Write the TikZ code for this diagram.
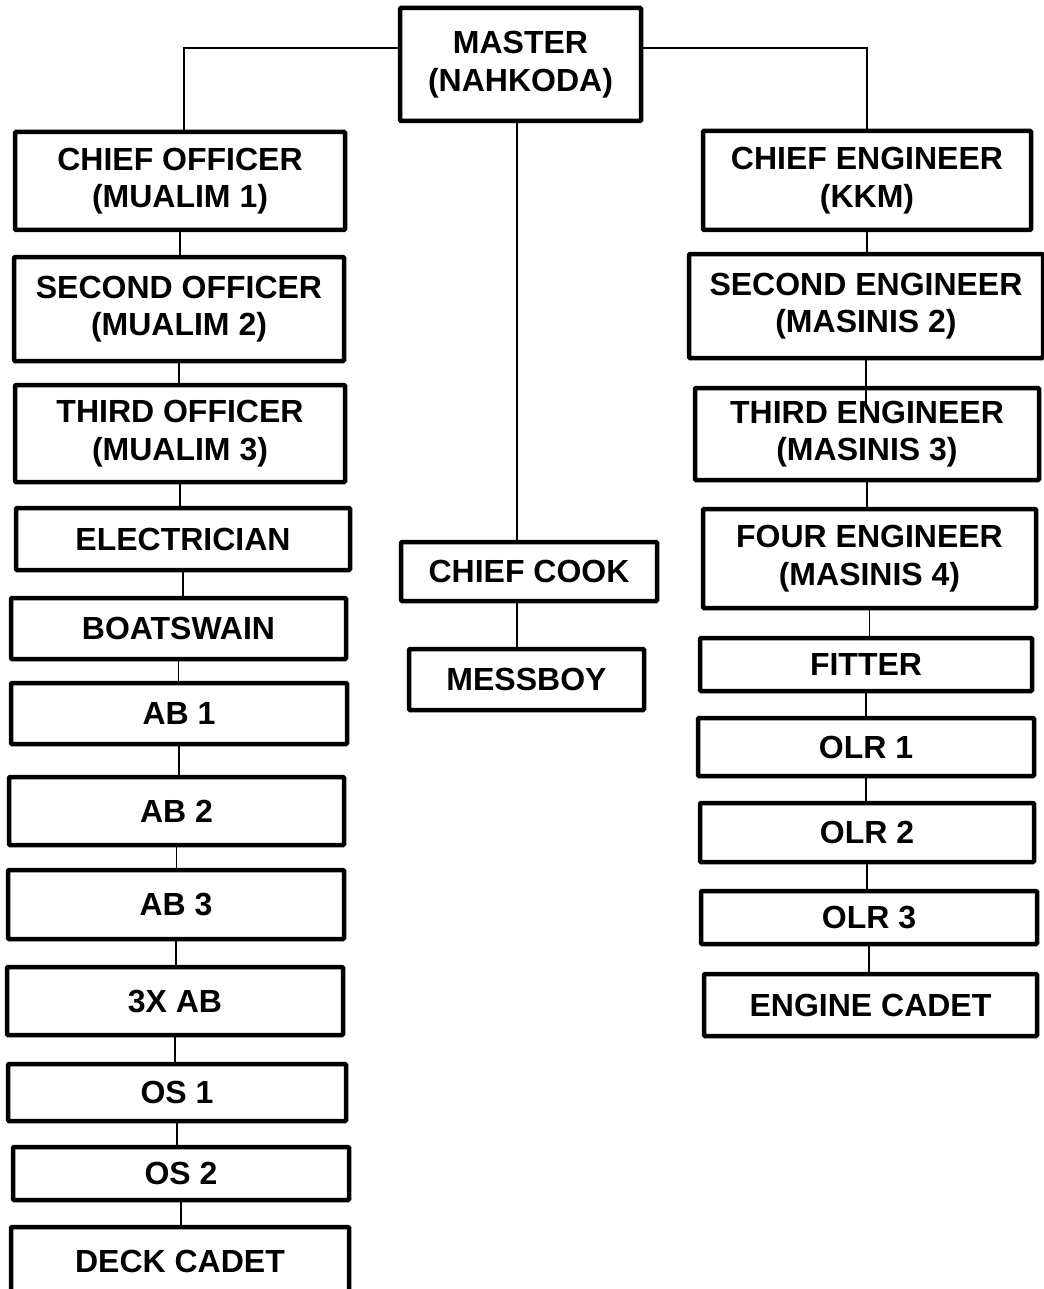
\documentclass[tikz,border=0pt]{standalone}
\usepackage{fontspec}
\setmainfont{Liberation Sans}
\usetikzlibrary{positioning,calc}

\begin{document}
\begin{tikzpicture}[
    x=1pt, y=-1pt,
    crew/.style={rectangle, draw=black, line width=4.5pt, rounded corners=1pt, fill=white,
                 align=center, inner sep=2pt,
                 font=\fontsize{32}{37.5}\selectfont\bfseries},
    link/.style={draw=black, line width=1.5pt}
]
\useasboundingbox (0,0) rectangle (1043,1289);

% top
\node[crew, minimum width=241pt, minimum height=113pt] (ms) at (520.5,64.5) {MASTER\\(NAHKODA)};

% deck department
\node[crew, minimum width=330pt, minimum height=98pt]  (co)  at (180,181)    {CHIEF OFFICER\\(MUALIM 1)};
\node[crew, minimum width=330pt, minimum height=104pt] (so)  at (179,309)    {SECOND OFFICER\\(MUALIM 2)};
\node[crew, minimum width=330pt, minimum height=97pt]  (to)  at (180,433.5)  {THIRD OFFICER\\(MUALIM 3)};
\node[crew, minimum width=334pt, minimum height=62pt]  (el)  at (183,539)    {ELECTRICIAN};
\node[crew, minimum width=335pt, minimum height=61pt]  (bo)  at (178.5,628.5) {BOATSWAIN};
\node[crew, minimum width=336pt, minimum height=61pt]  (ab1) at (179,713.5)  {AB 1};
\node[crew, minimum width=335pt, minimum height=68pt]  (ab2) at (176.5,811)  {AB 2};
\node[crew, minimum width=336pt, minimum height=69pt]  (ab3) at (176,904.5)  {AB 3};
\node[crew, minimum width=336pt, minimum height=68pt]  (abx) at (175,1001)   {3X AB};
\node[crew, minimum width=338pt, minimum height=57pt]  (os1) at (177,1092.5) {OS 1};
\node[crew, minimum width=336pt, minimum height=53pt]  (os2) at (181,1173.5) {OS 2};
\node[crew, minimum width=338pt, minimum height=68pt]  (dc)  at (180,1261)   {DECK CADET};

% galley
\node[crew, minimum width=256pt, minimum height=59pt] (cc) at (529,571.5)   {CHIEF COOK};
\node[crew, minimum width=235pt, minimum height=61pt] (mb) at (526.5,679.5) {MESSBOY};

% engine department
\node[crew, minimum width=328pt, minimum height=99pt]  (ce) at (867,180.5)   {CHIEF ENGINEER\\(KKM)};
\node[crew, minimum width=354pt, minimum height=104pt] (se) at (866,306)     {SECOND ENGINEER\\(MASINIS 2)};
\node[crew, minimum width=344pt, minimum height=92pt]  (te) at (867,434)     {THIRD ENGINEER\\(MASINIS 3)};
\node[crew, minimum width=333pt, minimum height=99pt]  (fe) at (869.5,558.5) {FOUR ENGINEER\\(MASINIS 4)};
\node[crew, minimum width=332pt, minimum height=53pt]  (fi) at (866,664.5)   {FITTER};
\node[crew, minimum width=336pt, minimum height=58pt]  (o1) at (866,747)     {OLR 1};
\node[crew, minimum width=334pt, minimum height=59pt]  (o2) at (867,832.5)   {OLR 2};
\node[crew, minimum width=336pt, minimum height=53pt]  (o3) at (869,917.5)   {OLR 3};
\node[crew, minimum width=333pt, minimum height=62pt]  (ec) at (870.5,1005)  {ENGINE CADET};

% links from master
\draw[link] ([yshift=16.5pt]ms.west) -| ([xshift=4pt]co.north);
\draw[link] ([yshift=16.5pt]ms.east) -| (ce.north);
\draw[link] ([xshift=-3.5pt]ms.south) -- ([xshift=-3.5pt]ms.south |- cc.north);
\draw[link] ([xshift=-3.5pt]ms.south |- cc.south) -- ([xshift=-3.5pt]ms.south |- mb.north);

% deck chain
\foreach \a/\b in {co/so, so/to, to/el, el/bo, bo/ab1, ab1/ab2, ab2/ab3, ab3/abx, abx/os1, os1/os2, os2/dc}
  \draw[link] (\a.south) -- (\a.south |- \b.north);

% engine chain
\draw[link] (ce.south) -- (ce.south |- se.north);
\draw[link] (se.south) -- ([yshift=-20pt]se.south |- te.north);
\foreach \a/\b in {te/fe, fe/fi, fi/o1, o1/o2, o2/o3, o3/ec}
  \draw[link] (\a.south) -- (\a.south |- \b.north);
\end{tikzpicture}
\end{document}
